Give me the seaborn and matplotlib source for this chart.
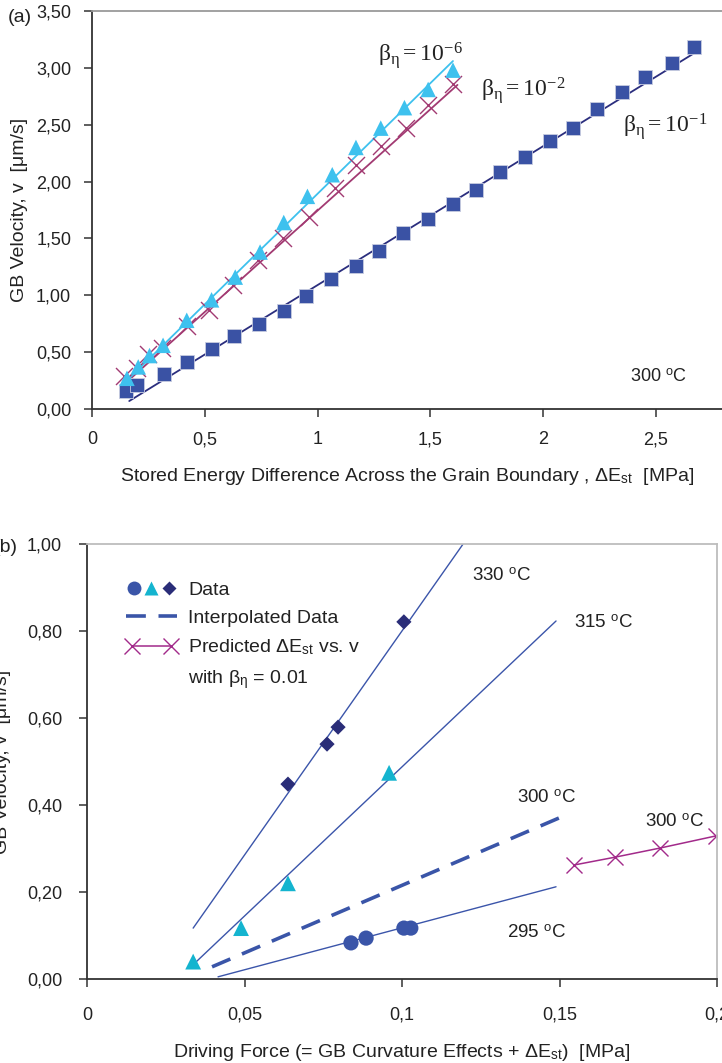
import matplotlib
matplotlib.use("Agg")
import matplotlib.pyplot as plt
from matplotlib.lines import Line2D
from matplotlib.legend_handler import HandlerTuple, HandlerLine2D
import seaborn as sns

# ---------------- (a) velocity vs stored energy difference, 300 °C ----------------
beta1_x = [0.15, 0.20, 0.32, 0.42, 0.53, 0.63, 0.74, 0.85, 0.95, 1.06, 1.17, 1.27, 1.38,
           1.49, 1.60, 1.70, 1.81, 1.92, 2.03, 2.13, 2.24, 2.35, 2.45, 2.57, 2.67]
beta1_v = [0.16, 0.21, 0.31, 0.41, 0.53, 0.64, 0.75, 0.86, 0.99, 1.14, 1.26, 1.39, 1.55,
           1.67, 1.80, 1.93, 2.08, 2.22, 2.36, 2.47, 2.64, 2.79, 2.92, 3.04, 3.18]
beta1_fit_x = [0.165, 2.67]
beta1_fit_v = [0.07, 3.13]

beta6_x = [0.155, 0.205, 0.255, 0.315, 0.42, 0.53, 0.635, 0.745, 0.85, 0.955, 1.065, 1.17,
           1.28, 1.385, 1.49, 1.60]
beta6_v = [0.27, 0.37, 0.47, 0.56, 0.78, 0.96, 1.16, 1.38, 1.64, 1.87, 2.06, 2.30,
           2.47, 2.65, 2.81, 2.98]
beta6_fit_x = [0.15, 1.60]
beta6_fit_v = [0.24, 3.06]

beta2_x = [0.14, 0.20, 0.25, 0.31, 0.42, 0.52, 0.625, 0.735, 0.845, 0.96, 1.075, 1.17,
           1.28, 1.39, 1.49, 1.60]
beta2_v = [0.29, 0.36, 0.48, 0.54, 0.73, 0.87, 1.09, 1.31, 1.50, 1.69, 1.94, 2.15,
           2.31, 2.47, 2.67, 2.86]
beta2_fit_x = [0.15, 1.62]
beta2_fit_v = [0.23, 2.85]

a_xticks = [0, 0.5, 1.0, 1.5, 2.0, 2.5]
a_xticklabels = ["0", "0,5", "1", "1,5", "2", "2,5"]
a_yticks = [0, 0.5, 1.0, 1.5, 2.0, 2.5, 3.0, 3.5]
a_yticklabels = ["0,00", "0,50", "1,00", "1,50", "2,00", "2,50", "3,00", "3,50"]

# ---------------- (b) velocity vs driving force ----------------
t330_x = [0.0638, 0.0762, 0.0797, 0.1006]
t330_v = [0.448, 0.540, 0.579, 0.821]
t330_fit_x = [0.0337, 0.1194]
t330_fit_v = [0.117, 1.0]

t315_x = [0.0337, 0.0489, 0.0638, 0.0959]
t315_v = [0.040, 0.117, 0.220, 0.474]
t315_fit_x = [0.0340, 0.1489]
t315_fit_v = [0.035, 0.823]

t300_interp_x = [0.0397, 0.1498]
t300_interp_v = [0.028, 0.370]

t295_x = [0.0838, 0.0886, 0.1006, 0.1028]
t295_v = [0.083, 0.094, 0.117, 0.117]
t295_fit_x = [0.0416, 0.1489]
t295_fit_v = [0.005, 0.212]

pred_x = [0.1546, 0.1676, 0.1819, 0.1997]
pred_v = [0.262, 0.280, 0.301, 0.329]

b_xticks = [0, 0.05, 0.10, 0.15, 0.20]
b_xticklabels = ["0", "0,05", "0,1", "0,15", "0,2"]
b_yticks = [0, 0.2, 0.4, 0.6, 0.8, 1.0]
b_yticklabels = ["0,00", "0,20", "0,40", "0,60", "0,80", "1,00"]

# ---------------- style ----------------
sns.set_theme(style="white")
plt.rcParams["font.family"] = ["Liberation Sans", "DejaVu Sans"]
plt.rcParams["mathtext.fontset"] = "custom"
plt.rcParams["mathtext.rm"] = "Liberation Serif"
plt.rcParams["mathtext.it"] = "Liberation Serif"
plt.rcParams["mathtext.bf"] = "Liberation Serif:bold"
plt.rcParams["mathtext.sf"] = "Liberation Sans"

TXT = "#222222"
FS = 13
LFS = 14

SQ_BLUE = "#3A52A4"
NAVY = "#2B2E7E"
SKY = "#3EC1EE"
MAROON = "#A23A72"
LINE_B = "#3B55AA"
TEAL = "#14B4CF"
DIAM = "#2A2D78"
CIRC = "#3A55A8"
PURPLE = "#A22A8A"

fig = plt.figure(figsize=(7.22, 10.63), dpi=100)
W, H = 722, 1063


def style_axes(ax, top_color, right_visible, right_color=None):
    for side in ("left", "bottom"):
        ax.spines[side].set_color("#333333")
        ax.spines[side].set_linewidth(1.3)
    ax.spines["top"].set_color(top_color)
    ax.spines["top"].set_linewidth(1.3)
    ax.spines["right"].set_visible(right_visible)
    if right_visible:
        ax.spines["right"].set_color(right_color)
        ax.spines["right"].set_linewidth(1.3)
    ax.tick_params(axis="both", which="major", direction="out", length=6, width=1.1,
                   color="#333333", labelcolor=TXT, labelsize=FS,
                   bottom=True, left=True, top=False, right=False)
    ax.grid(False)
    ax.set_facecolor("white")


# ---------------- panel (a) ----------------
ax_a = fig.add_axes([92 / W, 1 - 409 / H, 630 / W, 398 / H])

sns.lineplot(x=beta1_fit_x, y=beta1_fit_v, ax=ax_a, color=NAVY, linewidth=1.3)
sns.lineplot(x=beta2_fit_x, y=beta2_fit_v, ax=ax_a, color=MAROON, linewidth=1.3)
sns.lineplot(x=beta6_fit_x, y=beta6_fit_v, ax=ax_a, color=SKY, linewidth=1.3)
sns.scatterplot(x=beta1_x, y=beta1_v, ax=ax_a, marker="s", s=105, color=SQ_BLUE,
                edgecolor="#C8CCE0", linewidth=0.6, zorder=3)
sns.scatterplot(x=beta2_x, y=beta2_v, ax=ax_a, marker="x", s=150, color=MAROON,
                linewidth=1.0, zorder=3)
sns.scatterplot(x=beta6_x, y=beta6_v, ax=ax_a, marker="^", s=125, color=SKY,
                edgecolor="none", zorder=4)

ax_a.set_xlim(0, 630 / 225.6)
ax_a.set_ylim(0, 3.5)
ax_a.set_xticks(a_xticks)
ax_a.set_xticklabels(a_xticklabels)
ax_a.set_yticks(a_yticks)
ax_a.set_yticklabels(a_yticklabels)
style_axes(ax_a, "#9A9A9A", False)
ax_a.tick_params(axis="x", pad=10)
ax_a.tick_params(axis="y", pad=9)
ax_a.set_xlabel(r"Stored Energy Difference Across the Grain Boundary , ΔE$_\mathsf{st}$  [MPa]",
                fontsize=LFS, color=TXT, labelpad=13)
ax_a.set_ylabel("GB Velocity, v  [μm/s]", fontsize=LFS, color=TXT, labelpad=6)

ax_a.text(1.268, 3.06, r"$\beta_\eta = 10^{-6}$", fontsize=17, color=TXT, va="baseline")
ax_a.text(1.724, 2.75, r"$\beta_\eta = 10^{-2}$", fontsize=17, color=TXT, va="baseline")
ax_a.text(2.354, 2.43, r"$\beta_\eta = 10^{-1}$", fontsize=17, color=TXT, va="baseline")
ax_a.text(2.385, 0.28, r"300 $^\mathsf{o}$C", fontsize=FS, color=TXT, va="center")
fig.text(8 / W, 1 - 18 / H, "(a)", fontsize=FS + 1, color=TXT, va="center", ha="left")

# ---------------- panel (b) ----------------
ax_b = fig.add_axes([87 / W, 1 - 979 / H, 630 / W, 435 / H])

sns.lineplot(x=t330_fit_x, y=t330_fit_v, ax=ax_b, color=LINE_B, linewidth=1.0)
sns.lineplot(x=t315_fit_x, y=t315_fit_v, ax=ax_b, color=LINE_B, linewidth=1.0)
sns.lineplot(x=t295_fit_x, y=t295_fit_v, ax=ax_b, color=LINE_B, linewidth=1.0)
sns.lineplot(x=t300_interp_x, y=t300_interp_v, ax=ax_b, color=CIRC, linewidth=2.6,
             linestyle=(0, (5.5, 3.5)))
sns.lineplot(x=pred_x, y=pred_v, ax=ax_b, color=PURPLE, linewidth=1.1,
             marker="x", markersize=11, markeredgewidth=1.0, markeredgecolor=PURPLE)
sns.scatterplot(x=t330_x, y=t330_v, ax=ax_b, marker="D", s=60, color=DIAM,
                edgecolor="none", zorder=4)
sns.scatterplot(x=t315_x, y=t315_v, ax=ax_b, marker="^", s=130, color=TEAL,
                edgecolor="none", zorder=4)
sns.scatterplot(x=t295_x, y=t295_v, ax=ax_b, marker="o", s=120, color=CIRC,
                edgecolor="none", zorder=4)

ax_b.set_xlim(0, 0.2)
ax_b.set_ylim(0, 1.0)
ax_b.set_xticks(b_xticks)
ax_b.set_xticklabels(b_xticklabels)
ax_b.set_yticks(b_yticks)
ax_b.set_yticklabels(b_yticklabels)
style_axes(ax_b, "#BDBDBD", True, "#BDBDBD")
ax_b.tick_params(axis="x", pad=14)
ax_b.tick_params(axis="y", pad=12)
ax_b.set_xlabel(r"Driving Force (= GB Curvature Effects + ΔE$_\mathsf{st}$)  [MPa]",
                fontsize=LFS, color=TXT, labelpad=13)
ax_b.set_ylabel("GB Velocity, v  [μm/s]", fontsize=LFS, color=TXT, labelpad=11)

ax_b.text(0.1222, 0.926, r"330 $^\mathsf{o}$C", fontsize=FS + 0.5, color=TXT, va="center")
ax_b.text(0.1546, 0.818, r"315 $^\mathsf{o}$C", fontsize=FS + 0.5, color=TXT, va="center")
ax_b.text(0.1365, 0.416, r"300 $^\mathsf{o}$C", fontsize=FS + 0.5, color=TXT, va="center")
ax_b.text(0.1771, 0.359, r"300 $^\mathsf{o}$C", fontsize=FS + 0.5, color=TXT, va="center")
ax_b.text(0.1333, 0.106, r"295 $^\mathsf{o}$C", fontsize=FS + 0.5, color=TXT, va="center")
fig.text(-6 / W, 1 - 548 / H, "(b)", fontsize=FS + 1, color=TXT, va="center", ha="left")

# legend
h_data = (Line2D([], [], linestyle="none", marker="o", markersize=10, color=CIRC, markeredgecolor="none"),
          Line2D([], [], linestyle="none", marker="^", markersize=10, color=TEAL, markeredgecolor="none"),
          Line2D([], [], linestyle="none", marker="D", markersize=7, color=DIAM, markeredgecolor="none"))
h_interp = Line2D([], [], color=CIRC, linewidth=2.6, linestyle=(0, (5.5, 3.5)))
h_pred = Line2D([], [], color=PURPLE, linewidth=1.1, marker="x", markersize=12,
                markeredgewidth=1.0, markeredgecolor=PURPLE)
h_blank = Line2D([], [], linestyle="none", marker="none")
leg = ax_b.legend(
    [h_data, h_interp, h_pred, h_blank],
    ["Data", "Interpolated Data", r"Predicted ΔE$_\mathsf{st}$ vs. v", r"with β$_\mathsf{η}$ = 0.01"],
    handler_map={tuple: HandlerTuple(ndivide=None, pad=0.1),
                 h_pred: HandlerLine2D(numpoints=2)},
    loc="upper left", bbox_to_anchor=(0.062, 0.915), frameon=False, fontsize=LFS,
    numpoints=1, handlelength=2.6, handletextpad=0.6, labelspacing=0.55,
    borderpad=0, borderaxespad=0,
)
for t in leg.get_texts():
    t.set_color(TXT)

fig.savefig("out.png", dpi=100, facecolor="white")
